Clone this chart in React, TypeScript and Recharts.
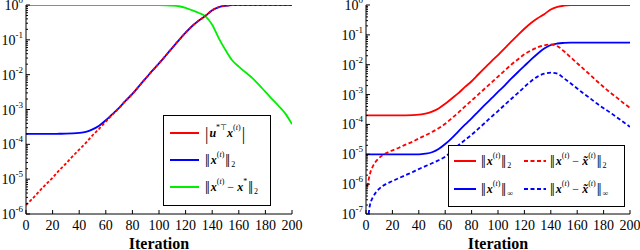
import React from 'react';
import { LineChart, Line, XAxis, YAxis, Legend } from 'recharts';

// ---------------- data ----------------
const iterations = [
  0, 5, 10, 15, 20, 25, 30, 35, 40, 45, 50, 55, 60, 65, 70, 75, 80, 85, 90, 95,
  100, 105, 110, 115, 120, 125, 130, 135, 140, 145, 150, 155, 160, 165, 170, 175, 180, 185, 190, 195, 200,
];

// |u*T x(t)|
const innerProduct = [
  1.8e-6, 2.8e-6, 4.5e-6, 7.1e-6, 1.1e-5, 1.8e-5, 2.8e-5, 4.5e-5, 7.1e-5, 1.1e-4,
  1.8e-4, 2.8e-4, 4.5e-4, 7.1e-4, 1.1e-3, 1.8e-3, 2.8e-3, 4.7e-3, 7.8e-3, 0.013,
  0.021, 0.035, 0.059, 0.098, 0.16, 0.25, 0.36, 0.49, 0.71, 0.87,
  0.95, 0.99, 1, 1, 1, 1, 1, 1, 1, 1, 1,
];

// ||x(t)||_2
const normX2 = [
  2.0e-4, 2.0e-4, 2.0e-4, 2.0e-4, 2.0e-4, 2.01e-4, 2.02e-4, 2.05e-4, 2.12e-4, 2.28e-4,
  2.69e-4, 3.44e-4, 4.9e-4, 7.4e-4, 1.12e-3, 1.8e-3, 2.8e-3, 4.7e-3, 7.8e-3, 0.013,
  0.021, 0.035, 0.059, 0.098, 0.16, 0.25, 0.36, 0.49, 0.71, 0.87,
  0.95, 0.99, 1, 1, 1, 1, 1, 1, 1, 1, 1,
];

// ||x(t) - x*||_2
const errorToStar = [
  1, 1, 1, 1, 1, 1, 1, 1, 1, 1,
  1, 1, 1, 1, 1, 1, 1, 1, 1, 1,
  0.995, 0.985, 0.965, 0.92, 0.83, 0.7, 0.59, 0.47, 0.27, 0.11,
  0.051, 0.026, 0.017, 0.0117, 0.0081, 0.0052, 0.0032, 0.002, 0.00126, 7.6e-4, 3.8e-4,
];

// ||x(t)||_inf
const normXInf = [
  1e-5, 1e-5, 1e-5, 1e-5, 1e-5, 1e-5, 1e-5, 1e-5, 1e-5, 1.05e-5,
  1.17e-5, 1.5e-5, 2.2e-5, 3.5e-5, 5.9e-5, 9.8e-5, 1.6e-4, 2.7e-4, 4.5e-4, 7.4e-4,
  1.23e-3, 2.0e-3, 3.4e-3, 5.6e-3, 9.1e-3, 0.0148, 0.0234, 0.0347, 0.0457, 0.0513,
  0.0537, 0.055, 0.055, 0.055, 0.055, 0.055, 0.055, 0.055, 0.055, 0.055, 0.055,
];

const iterationsDiff = [
  1, 2, 3, 4, 5, 10, 15, 20, 25, 30, 35, 40, 45, 50, 55, 60, 65, 70, 75, 80, 85, 90, 95,
  100, 105, 110, 115, 120, 125, 130, 135, 140, 145, 150, 155, 160, 165, 170, 175, 180, 185, 190, 195, 200,
];

// ||x(t) - x~(t)||_2
const diffNorm2 = [
  8e-7, 1.4e-6, 2.2e-6, 3e-6, 3.8e-6, 7.6e-6, 1.07e-5, 1.35e-5, 1.66e-5, 2.1e-5, 2.6e-5, 3.4e-5,
  4.3e-5, 5.6e-5, 7.4e-5, 1.05e-4, 1.6e-4, 2.5e-4, 4e-4, 6.3e-4, 1e-3, 1.6e-3, 2.5e-3,
  4e-3, 6.3e-3, 0.01, 0.015, 0.0224, 0.03, 0.038, 0.0447, 0.0479, 0.0417, 0.0282, 0.0178,
  0.0112, 7.1e-3, 4.5e-3, 2.8e-3, 1.8e-3, 1.17e-3, 7.9e-4, 5.2e-4, 3.6e-4,
];

// ||x(t) - x~(t)||_inf
const diffNormInf = [
  null, 1e-7, 2e-7, 2.8e-7, 3.5e-7, 7e-7, 1e-6, 1.26e-6, 1.6e-6, 2e-6, 2.5e-6, 3.2e-6,
  4e-6, 5e-6, 6.3e-6, 8.3e-6, 1.26e-5, 2e-5, 3e-5, 4.5e-5, 7.1e-5, 1.12e-4, 1.8e-4,
  2.8e-4, 4.5e-4, 7.1e-4, 1.12e-3, 1.8e-3, 2.8e-3, 4e-3, 5e-3, 5.4e-3, 5e-3, 3.5e-3, 2.4e-3,
  1.6e-3, 1.07e-3, 7.4e-4, 5e-4, 3.5e-4, 2.5e-4, 1.74e-4, 1.2e-4, 8.3e-5,
];

const xTicks = [0, 20, 40, 60, 80, 100, 120, 140, 160, 180, 200];
const leftDecades = [1e-6, 1e-5, 1e-4, 1e-3, 1e-2, 1e-1, 1];
const rightDecades = [1e-7, 1e-6, 1e-5, 1e-4, 1e-3, 1e-2, 1e-1, 1];
const minorMultipliers = [2, 3, 4, 5, 6, 7, 8, 9];

const withMinor = (decades: number[]) => {
  const out: number[] = [];
  decades.forEach((d, i) => {
    out.push(d);
    if (i < decades.length - 1) minorMultipliers.forEach((m) => out.push(d * m));
  });
  return out;
};

const leftRows = iterations.map((t, i) => ({
  t,
  ip: innerProduct[i],
  n2: normX2[i],
  err: errorToStar[i],
}));
const rightRows = iterations.map((t, i) => ({ t, n2: normX2[i], ninf: normXInf[i] }));
const diff2Rows = iterationsDiff.map((t, i) => ({ t, d2: diffNorm2[i] }));
const diffInfRows = iterationsDiff.map((t, i) => ({ t, dinf: diffNormInf[i] }));

// ---------------- styling helpers ----------------
const SERIF = "'Liberation Serif', 'Times New Roman', Times, serif";
const TM = 6;
const RED = '#ff0000';
const BLUE = '#0000ff';
const GREEN = '#00ee00';
const textStyle: React.CSSProperties = { fontFamily: SERIF };

const logTick = (side: 'left' | 'right', labels: boolean) => (props: any) => {
  const { x, y, payload } = props;
  const v = payload.value as number;
  const e = Math.log10(v);
  const major = Math.abs(e - Math.round(e)) < 1e-6;
  const len = major ? 4 : 2;
  const ax = side === 'left' ? x + TM : x - TM;
  const dir = side === 'left' ? 1 : -1;
  return (
    <g>
      <line x1={ax} x2={ax + dir * len} y1={y} y2={y} stroke="#000" strokeWidth={1} />
      {labels && major && (
        <text x={ax - 3} y={y + 5} textAnchor="end" style={{ ...textStyle, fontSize: 14 }} fill="#000">
          10
          <tspan dy={-7} style={{ fontSize: 9 }}>
            {String(Math.round(e))}
          </tspan>
        </text>
      )}
    </g>
  );
};

const linTick = (side: 'top' | 'bottom', labels: boolean) => (props: any) => {
  const { x, y, payload } = props;
  const ay = side === 'bottom' ? y - TM : y + TM;
  const dir = side === 'bottom' ? -1 : 1;
  return (
    <g>
      <line x1={x} x2={x} y1={ay} y2={ay + dir * 4} stroke="#000" strokeWidth={1} />
      {labels && (
        <text x={x} y={ay + 16} textAnchor="middle" style={{ ...textStyle, fontSize: 14 }} fill="#000">
          {payload.value}
        </text>
      )}
    </g>
  );
};

// ---------------- legend math ----------------
const B = ({ c }: { c: string }) => (
  <span style={{ fontWeight: 'bold', fontStyle: 'italic' }}>{c}</span>
);
const Sup = ({ children }: { children: React.ReactNode }) => (
  <span style={{ fontSize: 8, position: 'relative', top: -5 }}>{children}</span>
);
const Sub = ({ children }: { children: React.ReactNode }) => (
  <span style={{ fontSize: 8, position: 'relative', top: 5 }}>{children}</span>
);
const Bar = ({ c }: { c: string }) => (
  <span style={{ fontSize: 17, display: 'inline-block', transform: 'scaleY(1.15)', margin: '0 1px' }}>{c}</span>
);
const T = () => (
  <Sup>
    (<i>t</i>)
  </Sup>
);

const Row = ({
  left,
  cy,
  width,
  color,
  dash,
  textLeft,
  children,
}: {
  left: number;
  cy: number;
  width: number;
  color: string;
  dash?: string;
  textLeft: number;
  children: React.ReactNode;
}) => (
  <>
    <svg style={{ position: 'absolute', left, top: cy - 2 }} width={width} height={4}>
      <line x1={0} x2={width} y1={2} y2={2} stroke={color} strokeWidth={2} strokeDasharray={dash} />
    </svg>
    <div
      style={{
        position: 'absolute',
        left: textLeft,
        top: cy - 11,
        height: 22,
        display: 'flex',
        alignItems: 'center',
        whiteSpace: 'nowrap',
        fontFamily: SERIF,
        fontSize: 12,
        color: '#000',
        lineHeight: 1,
      }}
    >
      {children}
    </div>
  </>
);

const boxStyle: React.CSSProperties = {
  position: 'relative',
  boxSizing: 'border-box',
  border: '1.5px solid #000',
  background: '#fff',
  width: '100%',
  height: '100%',
};

const LeftLegend = () => (
  <div style={boxStyle}>
    <Row left={6} cy={17} width={29} color={RED} textLeft={40}>
      <Bar c="|" />
      <B c="u" />
      <Sup>*⊤</Sup>
      <B c="x" />
      <T />
      <Bar c="|" />
    </Row>
    <Row left={6} cy={44} width={29} color={BLUE} textLeft={40}>
      <Bar c="‖" />
      <B c="x" />
      <T />
      <Bar c="‖" />
      <Sub>2</Sub>
    </Row>
    <Row left={6} cy={71} width={29} color={GREEN} textLeft={40}>
      <Bar c="‖" />
      <B c="x" />
      <T />
      <span style={{ margin: '0 3px' }}>−</span>
      <B c="x" />
      <Sup>*</Sup>
      <Bar c="‖" />
      <Sub>2</Sub>
    </Row>
  </div>
);

const RightLegend = () => (
  <div style={boxStyle}>
    <Row left={5} cy={15} width={22} color={RED} textLeft={31}>
      <Bar c="‖" />
      <B c="x" />
      <T />
      <Bar c="‖" />
      <Sub>2</Sub>
    </Row>
    <Row left={75} cy={15} width={22} color={RED} dash="4 2.5" textLeft={100}>
      <Bar c="‖" />
      <B c="x" />
      <T />
      <span style={{ margin: '0 3px' }}>−</span>
      <B c={'x\u0303'} />
      <T />
      <Bar c="‖" />
      <Sub>2</Sub>
    </Row>
    <Row left={5} cy={43} width={22} color={BLUE} textLeft={31}>
      <Bar c="‖" />
      <B c="x" />
      <T />
      <Bar c="‖" />
      <Sub>∞</Sub>
    </Row>
    <Row left={75} cy={43} width={22} color={BLUE} dash="4 2.5" textLeft={100}>
      <Bar c="‖" />
      <B c="x" />
      <T />
      <span style={{ margin: '0 3px' }}>−</span>
      <B c={'x\u0303'} />
      <T />
      <Bar c="‖" />
      <Sub>∞</Sub>
    </Row>
  </div>
);

const axisLine = { stroke: '#000', strokeWidth: 1 };
const iterLabel = {
  value: 'Iteration',
  position: 'insideBottom' as const,
  offset: 1,
  style: { fontFamily: SERIF, fontSize: 16, fontWeight: 'bold', fill: '#000' },
};

function Panel({
  rows,
  decades,
  yWidth,
  margin,
  legend,
  children,
}: {
  rows: any[];
  decades: number[];
  yWidth: number;
  margin: any;
  legend: React.ReactNode;
  children: React.ReactNode;
}) {
  const ticks = withMinor(decades);
  const domain = [decades[0], decades[decades.length - 1]];
  return (
    <LineChart width={320} height={250} data={rows} margin={margin}>
      <XAxis
        dataKey="t"
        type="number"
        domain={[0, 200]}
        ticks={xTicks}
        interval={0}
        allowDataOverflow
        height={36}
        tickSize={0}
        tickMargin={TM}
        tickLine={false}
        axisLine={axisLine}
        tick={linTick('bottom', true)}
        label={iterLabel}
      />
      <XAxis
        xAxisId="top"
        orientation="top"
        dataKey="t"
        type="number"
        domain={[0, 200]}
        ticks={xTicks}
        interval={0}
        allowDataOverflow
        height={0}
        tickSize={0}
        tickMargin={TM}
        tickLine={false}
        axisLine={axisLine}
        tick={linTick('top', false)}
      />
      <YAxis
        type="number"
        scale="log"
        domain={domain}
        allowDataOverflow
        ticks={ticks}
        interval={0}
        width={yWidth}
        tickSize={0}
        tickMargin={TM}
        tickLine={false}
        axisLine={axisLine}
        tick={logTick('left', true)}
      />
      <YAxis
        yAxisId="r"
        orientation="right"
        type="number"
        scale="log"
        domain={domain}
        allowDataOverflow
        ticks={ticks}
        interval={0}
        width={0}
        tickSize={0}
        tickMargin={TM}
        tickLine={false}
        axisLine={axisLine}
        tick={logTick('right', false)}
      />
      {children}
      {legend}
    </LineChart>
  );
}

export default function App() {
  return (
    <div style={{ position: 'absolute', left: 0, top: 0, width: 640, height: 250, display: 'flex', background: '#fff' }}>
      <Panel
        rows={leftRows}
        decades={leftDecades}
        yWidth={26}
        margin={{ top: 5, right: 28, bottom: 0, left: 0 }}
        legend={
          <Legend
            layout="vertical"
            align="center"
            verticalAlign="middle"
            wrapperStyle={{ left: 163, top: 115, width: 108, height: 91 }}
            content={() => <LeftLegend />}
          />
        }
      >
        <Line dataKey="n2" type="monotone" stroke={BLUE} strokeWidth={1.8} dot={false} isAnimationActive={false} />
        <Line dataKey="err" type="monotone" stroke={GREEN} strokeWidth={1.8} dot={false} isAnimationActive={false} />
        <Line
          dataKey="ip"
          type="monotone"
          stroke={RED}
          strokeWidth={1.8}
          strokeDasharray="3 2"
          dot={false}
          isAnimationActive={false}
        />
      </Panel>
      <Panel
        rows={rightRows}
        decades={rightDecades}
        yWidth={46}
        margin={{ top: 5, right: 10, bottom: 0, left: 0 }}
        legend={
          <Legend
            layout="vertical"
            align="center"
            verticalAlign="middle"
            wrapperStyle={{ left: 128, top: 145, width: 177, height: 62 }}
            content={() => <RightLegend />}
          />
        }
      >
        <Line dataKey="n2" type="monotone" stroke={RED} strokeWidth={1.8} dot={false} isAnimationActive={false} />
        <Line dataKey="ninf" type="monotone" stroke={BLUE} strokeWidth={1.8} dot={false} isAnimationActive={false} />
        <Line
          data={diff2Rows}
          dataKey="d2"
          type="monotone"
          stroke={RED}
          strokeWidth={1.8}
          strokeDasharray="4 2.5"
          dot={false}
          isAnimationActive={false}
        />
        <Line
          data={diffInfRows}
          dataKey="dinf"
          type="monotone"
          stroke={BLUE}
          strokeWidth={1.8}
          strokeDasharray="4 2.5"
          dot={false}
          isAnimationActive={false}
        />
      </Panel>
    </div>
  );
}
